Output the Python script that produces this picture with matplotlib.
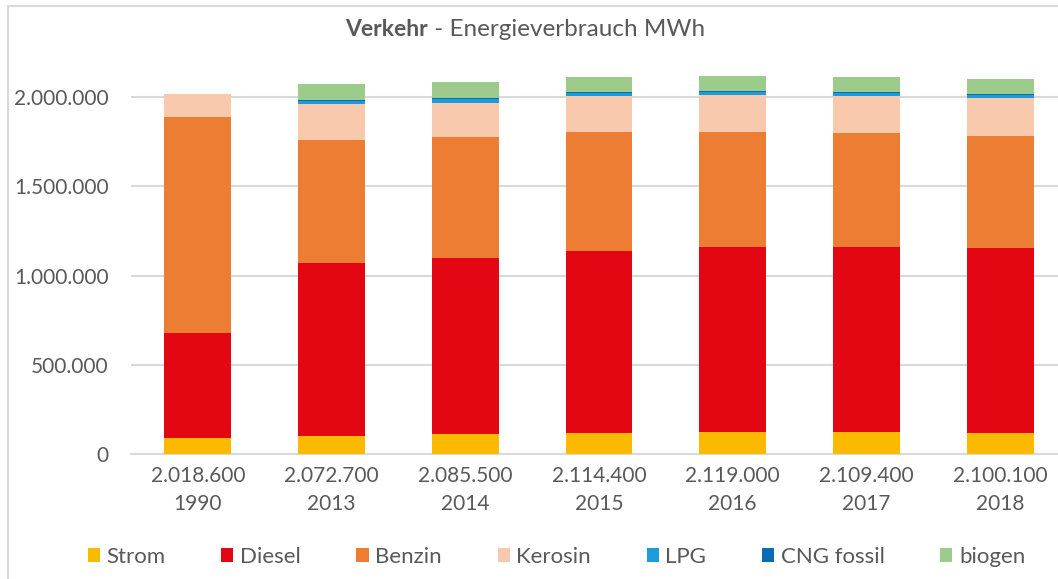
import numpy as np
import matplotlib
matplotlib.use("Agg")
import matplotlib.pyplot as plt
from matplotlib.patches import Rectangle

plt.rcParams['font.family'] = ['Lato', 'DejaVu Sans']

# ── data (MWh) ──
years = ['1990', '2013', '2014', '2015', '2016', '2017', '2018']
strom   = [90000, 100000, 112000, 118000, 123000, 122000, 118000]
diesel  = [588000, 970000, 986000, 1019000, 1037000, 1038000, 1036000]
benzin  = [1210000, 690000, 678000, 667000, 644000, 638000, 627000]
kerosin = [130600, 200000, 190000, 200000, 206000, 206000, 215000]
lpg     = [0, 20000, 22000, 20000, 20000, 17000, 16000]
cng     = [0, 3000, 4000, 4000, 4000, 6000, 7000]
biogen  = [0, 89700, 93500, 86400, 85000, 82400, 81100]
totals  = [2018600, 2072700, 2085500, 2114400, 2119000, 2109400, 2100100]

series = [
    ('Strom', strom, '#FBBA00'),
    ('Diesel', diesel, '#E30613'),
    ('Benzin', benzin, '#EE7D34'),
    ('Kerosin', kerosin, '#F9C9AE'),
    ('LPG', lpg, '#1E9BDB'),
    ('CNG fossil', cng, '#0A6DB3'),
    ('biogen', biogen, '#9CCB8C'),
]

grey = '#595959'
W, H = 1058, 579
fig = plt.figure(figsize=(W / 100, H / 100), dpi=100)

# chart border (right/bottom lie outside the crop)
fig.patches.append(Rectangle((8 / W, -0.05), 1.1, 1 - 6 / H + 0.05,
                             transform=fig.transFigure, fill=False,
                             edgecolor='#d9d9d9', lw=1.5))

ymax = 2200000
px_per = 357 / 2000000
top_px = 454 - ymax * px_per
ax = fig.add_axes([131 / W, 1 - 454 / H, (1067 - 131) / W, (454 - top_px) / H])

x = np.arange(len(years))
bottom = np.zeros(len(years))
for name, vals, col in series:
    ax.bar(x, vals, 0.5, bottom=bottom, color=col, label=name, lw=0, zorder=3)
    bottom += np.array(vals)

ax.set_xlim(-0.5, len(years) - 0.5)
ax.set_ylim(0, ymax)
ticks = [0, 500000, 1000000, 1500000, 2000000]
ax.set_yticks(ticks)
ax.set_yticklabels([f'{t:,}'.replace(',', '.') for t in ticks])
ax.set_xticks(x)
ax.set_xticklabels([f"{t:,}".replace(',', '.') + '\n' + y for t, y in zip(totals, years)],
                   linespacing=1.45)
ax.tick_params(length=0, labelsize=15, labelcolor=grey)
ax.tick_params(axis='x', pad=9)
ax.tick_params(axis='y', pad=16)
ax.grid(axis='y', color='#d9d9d9', lw=1.5, zorder=0)
for s in ['top', 'right', 'left']:
    ax.spines[s].set_visible(False)
ax.spines['bottom'].set_color('#d9d9d9')
ax.spines['bottom'].set_linewidth(1.5)

# title: bold "Verkehr" + normal rest
fig.text(428 / W, 1 - 29 / H, 'Verkehr', ha='right', va='center',
         fontsize=16.5, fontweight='bold', color=grey)
fig.text(428 / W, 1 - 29 / H, ' - Energieverbrauch MWh', ha='left', va='center',
         fontsize=17.5, color=grey)

leg = fig.legend(loc='center', bbox_to_anchor=(0.526, 1 - 557 / H), ncol=7,
                 frameon=False, fontsize=16, handlelength=0.55, handleheight=0.55,
                 handletextpad=0.3, columnspacing=2.5)
for t in leg.get_texts():
    t.set_color(grey)

plt.savefig('out.png', dpi=100)
